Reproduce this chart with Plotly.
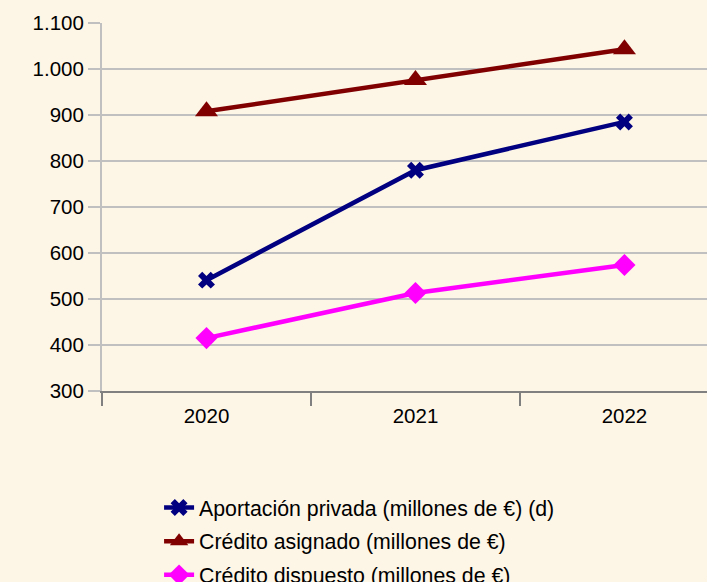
import plotly.graph_objects as go

years = ["2020", "2021", "2022"]
aportacion_privada = [541, 780, 885]
credito_asignado = [908, 976, 1043]
credito_dispuesto = [415, 513, 574]

series = [
    ("Aportación privada (millones de €) (d)", aportacion_privada, "#000080", "x", 15),
    ("Crédito asignado (millones de €)", credito_asignado, "#800000", "triangle-up", 20),
    ("Crédito dispuesto (millones de €)", credito_dispuesto, "#FF00FF", "diamond", 17),
]

bg = "#FDF5E6"
fig = go.Figure()
for i, (name, vals, color, symbol, size) in enumerate(series):
    fig.add_trace(
        go.Scatter(
            x=years,
            y=vals,
            name=name,
            mode="lines+markers",
            line=dict(color=color, width=4.5),
            marker=dict(symbol=symbol, size=size, color=color),
            legendgroup=str(i),
        )
    )

fig.update_layout(
    width=707,
    height=582,
    paper_bgcolor=bg,
    plot_bgcolor=bg,
    margin=dict(l=102, r=0, t=23, b=191, autoexpand=False),
    font=dict(family="Liberation Sans, Arial, sans-serif", size=20.5, color="#000000"),
    separators=",.",
    showlegend=True,
    legend=dict(
        xref="container",
        yref="container",
        x=0.225,
        y=0.163,
        xanchor="left",
        yanchor="top",
        bgcolor="rgba(0,0,0,0)",
        tracegroupgap=3,
        font=dict(size=21.3),
    ),
    xaxis=dict(
        type="category",
        range=[-0.5, 2.395],
        showgrid=False,
        tickson="boundaries",
        ticks="outside",
        ticklen=13,
        tickwidth=2,
        tickcolor="#808080",
        ticklabelstandoff=5,
        showline=True,
        linecolor="#808080",
        linewidth=2,
        zeroline=False,
    ),
    yaxis=dict(
        range=[300, 1100],
        dtick=100,
        tickformat=",",
        showgrid=True,
        gridcolor="#C0C0C0",
        gridwidth=2,
        ticks="outside",
        ticklen=12,
        tickwidth=2,
        tickcolor="#C0C0C0",
        showline=True,
        linecolor="#C0C0C0",
        linewidth=2,
        zeroline=False,
    ),
)

fig.write_html(
    "out.html",
    config={"displayModeBar": False},
    post_script="document.body.style.margin='0';",
)
